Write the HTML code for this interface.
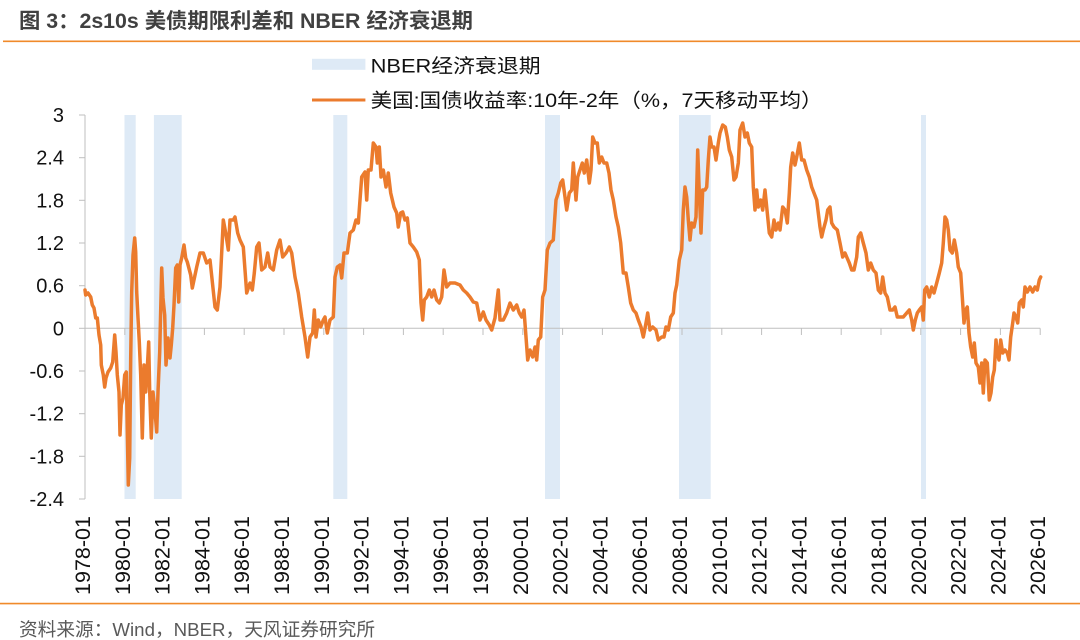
<!DOCTYPE html>
<html>
<head>
<meta charset="utf-8">
<style>
html,body{margin:0;padding:0;background:#fff;}
svg{display:block;}
text{font-family:"Liberation Sans","Noto Sans CJK SC",sans-serif;}
</style>
</head>
<body>
<svg width="1080" height="640" viewBox="0 0 1080 640" xmlns="http://www.w3.org/2000/svg">
<rect width="1080" height="640" fill="#fff"/>
<!-- Title -->
<text x="19" y="28" font-size="21" font-weight="bold" fill="#404040" textLength="454" lengthAdjust="spacingAndGlyphs">图 3：2s10s 美债期限利差和 NBER 经济衰退期</text>
<line x1="3" y1="41.3" x2="1080" y2="41.3" stroke="#F08A2A" stroke-width="1.6"/>

<!-- Legend -->
<rect x="312" y="58.8" width="53.4" height="11" fill="#DEEAF6"/>
<text x="370.6" y="72.5" font-size="19.5" fill="#111" textLength="170" lengthAdjust="spacingAndGlyphs">NBER经济衰退期</text>
<line x1="312" y1="100" x2="365.4" y2="100" stroke="#EB7B2D" stroke-width="3"/>
<text x="370.6" y="107" font-size="19.5" fill="#111" textLength="452" lengthAdjust="spacingAndGlyphs">美国:国债收益率:10年-2年（%，7天移动平均）</text>

<!-- Recession bands -->
<g fill="#DEEAF6">
<rect x="124.5" y="115" width="11.2" height="384"/>
<rect x="153.9" y="115" width="27.8" height="384"/>
<rect x="333.3" y="115" width="14" height="384"/>
<rect x="545" y="115" width="15" height="384"/>
<rect x="679" y="115" width="31.7" height="384"/>
<rect x="921" y="115" width="5" height="384"/>
</g>

<!-- Axes -->
<g stroke="#BFBFBF" stroke-width="1">
<line x1="85" y1="115" x2="85" y2="499"/>
<line x1="79" y1="115" x2="85" y2="115"/>
<line x1="79" y1="157.7" x2="85" y2="157.7"/>
<line x1="79" y1="200.3" x2="85" y2="200.3"/>
<line x1="79" y1="243" x2="85" y2="243"/>
<line x1="79" y1="285.7" x2="85" y2="285.7"/>
<line x1="79" y1="328.3" x2="85" y2="328.3"/>
<line x1="79" y1="371" x2="85" y2="371"/>
<line x1="79" y1="413.7" x2="85" y2="413.7"/>
<line x1="79" y1="456.3" x2="85" y2="456.3"/>
<line x1="79" y1="499" x2="85" y2="499"/>
<line x1="85" y1="328.3" x2="1040.2" y2="328.3"/>
<line x1="85" y1="328.3" x2="85" y2="335"/>
<line x1="124.8" y1="328.3" x2="124.8" y2="335"/>
<line x1="164.6" y1="328.3" x2="164.6" y2="335"/>
<line x1="204.4" y1="328.3" x2="204.4" y2="335"/>
<line x1="244.2" y1="328.3" x2="244.2" y2="335"/>
<line x1="284" y1="328.3" x2="284" y2="335"/>
<line x1="323.8" y1="328.3" x2="323.8" y2="335"/>
<line x1="363.6" y1="328.3" x2="363.6" y2="335"/>
<line x1="403.4" y1="328.3" x2="403.4" y2="335"/>
<line x1="443.2" y1="328.3" x2="443.2" y2="335"/>
<line x1="483" y1="328.3" x2="483" y2="335"/>
<line x1="522.8" y1="328.3" x2="522.8" y2="335"/>
<line x1="562.6" y1="328.3" x2="562.6" y2="335"/>
<line x1="602.4" y1="328.3" x2="602.4" y2="335"/>
<line x1="642.2" y1="328.3" x2="642.2" y2="335"/>
<line x1="682" y1="328.3" x2="682" y2="335"/>
<line x1="721.8" y1="328.3" x2="721.8" y2="335"/>
<line x1="761.6" y1="328.3" x2="761.6" y2="335"/>
<line x1="801.4" y1="328.3" x2="801.4" y2="335"/>
<line x1="841.2" y1="328.3" x2="841.2" y2="335"/>
<line x1="881" y1="328.3" x2="881" y2="335"/>
<line x1="920.8" y1="328.3" x2="920.8" y2="335"/>
<line x1="960.6" y1="328.3" x2="960.6" y2="335"/>
<line x1="1000.4" y1="328.3" x2="1000.4" y2="335"/>
<line x1="1040.2" y1="328.3" x2="1040.2" y2="335"/>
</g>

<!-- Y labels -->
<g font-size="20" fill="#111" text-anchor="end">
<text x="64" y="122">3</text>
<text x="64" y="164.7">2.4</text>
<text x="64" y="207.3">1.8</text>
<text x="64" y="250">1.2</text>
<text x="64" y="292.7">0.6</text>
<text x="64" y="335.3">0</text>
<text x="64" y="378">-0.6</text>
<text x="64" y="420.7">-1.2</text>
<text x="64" y="463.3">-1.8</text>
<text x="64" y="506">-2.4</text>
</g>

<!-- X labels -->
<g font-size="21" fill="#111">
<text transform="translate(90,595) rotate(-90)" textLength="79" lengthAdjust="spacingAndGlyphs">1978-01</text>
<text transform="translate(129.8,595) rotate(-90)" textLength="79" lengthAdjust="spacingAndGlyphs">1980-01</text>
<text transform="translate(169.6,595) rotate(-90)" textLength="79" lengthAdjust="spacingAndGlyphs">1982-01</text>
<text transform="translate(209.4,595) rotate(-90)" textLength="79" lengthAdjust="spacingAndGlyphs">1984-01</text>
<text transform="translate(249.2,595) rotate(-90)" textLength="79" lengthAdjust="spacingAndGlyphs">1986-01</text>
<text transform="translate(289,595) rotate(-90)" textLength="79" lengthAdjust="spacingAndGlyphs">1988-01</text>
<text transform="translate(328.8,595) rotate(-90)" textLength="79" lengthAdjust="spacingAndGlyphs">1990-01</text>
<text transform="translate(368.6,595) rotate(-90)" textLength="79" lengthAdjust="spacingAndGlyphs">1992-01</text>
<text transform="translate(408.4,595) rotate(-90)" textLength="79" lengthAdjust="spacingAndGlyphs">1994-01</text>
<text transform="translate(448.2,595) rotate(-90)" textLength="79" lengthAdjust="spacingAndGlyphs">1996-01</text>
<text transform="translate(488,595) rotate(-90)" textLength="79" lengthAdjust="spacingAndGlyphs">1998-01</text>
<text transform="translate(527.8,595) rotate(-90)" textLength="79" lengthAdjust="spacingAndGlyphs">2000-01</text>
<text transform="translate(567.6,595) rotate(-90)" textLength="79" lengthAdjust="spacingAndGlyphs">2002-01</text>
<text transform="translate(607.4,595) rotate(-90)" textLength="79" lengthAdjust="spacingAndGlyphs">2004-01</text>
<text transform="translate(647.2,595) rotate(-90)" textLength="79" lengthAdjust="spacingAndGlyphs">2006-01</text>
<text transform="translate(687,595) rotate(-90)" textLength="79" lengthAdjust="spacingAndGlyphs">2008-01</text>
<text transform="translate(726.8,595) rotate(-90)" textLength="79" lengthAdjust="spacingAndGlyphs">2010-01</text>
<text transform="translate(766.6,595) rotate(-90)" textLength="79" lengthAdjust="spacingAndGlyphs">2012-01</text>
<text transform="translate(806.4,595) rotate(-90)" textLength="79" lengthAdjust="spacingAndGlyphs">2014-01</text>
<text transform="translate(846.2,595) rotate(-90)" textLength="79" lengthAdjust="spacingAndGlyphs">2016-01</text>
<text transform="translate(886,595) rotate(-90)" textLength="79" lengthAdjust="spacingAndGlyphs">2018-01</text>
<text transform="translate(925.8,595) rotate(-90)" textLength="79" lengthAdjust="spacingAndGlyphs">2020-01</text>
<text transform="translate(965.6,595) rotate(-90)" textLength="79" lengthAdjust="spacingAndGlyphs">2022-01</text>
<text transform="translate(1005.4,595) rotate(-90)" textLength="79" lengthAdjust="spacingAndGlyphs">2024-01</text>
<text transform="translate(1045.2,595) rotate(-90)" textLength="79" lengthAdjust="spacingAndGlyphs">2026-01</text>
</g>

<!-- Series -->
<polyline fill="none" stroke="#EB7B2D" stroke-width="3.5" stroke-linejoin="round" stroke-linecap="round" points="
85,290 85.7,295 88,293 90.7,297 92.3,305 94,308 95.7,318 97.3,318 99,335 100.7,345 101.3,365 103.3,375 104.7,387 106,378 108,372 110.7,368 112.7,362 114.7,335 116,352 117.3,375 119,392 120,435 121.3,405 123,398 124.7,375 126.3,372 127.3,432 128.3,485 129.7,458 130.7,358 131.7,292 133,255 134.7,238 135.7,252 136.7,292 138,318 139.3,342 140.7,375 142.3,438 144,365 145.7,392 147.3,368 148.7,342 149.7,392 151.3,438 153,392 154.7,408 156.7,432 158,392 159.7,352 161.7,268 163,298 164.7,315 166,365 168,338 170,358 171.3,345 172.7,328 174,305 175.7,268 177.3,265 178.7,302 180,265 181.7,258 184,245 185.7,258 187.3,262 190.7,275 192.3,288
196.7,267 200,253 203.3,253 206.7,263 210,260 215,307 217.3,310 220,287 223.3,220 225.7,233 228.3,250 230,220 233.3,220 235,217 237.7,233 240,240 243.3,247 246.7,293 250,283 252.3,290 254.3,273 256.7,247 259,243 261.7,270 265,267 267.7,253
270,267 273.3,270 276.7,250 280,240 282.7,257 286,253 289.3,247 291.7,253 295,277 298.3,293 301.7,317 305,337 307.7,357 310,337 312.7,333 314.3,310 316,337 318.3,320 320.7,327 323.3,320 325,317 327.3,333 330,320 333.3,317 335,277 337.3,267 340,265 341.7,278 344,253 347.3,253 350,233 353.3,230 356,220 358.3,223 361.7,177 365,172 366.7,200 368.3,170 371,170 373.3,143 376,147 377.3,163 379.3,147 381,177 383.3,170 386,187 388.3,173 390.7,193 394,207 396.7,213 398.3,227 400.7,213 402.7,212 405,220 407.3,218 410,243 413.3,247 416.7,252 419.3,260 421,303 422.7,320 424.3,300 426.7,297 429.3,290 431.7,297 434,290 436.7,300 439.3,303 441.7,297 444,270 446.7,287 450,283 455,283 460,285 463.3,290 466.7,293 470,297 473.3,302 476.7,303 480,320 483.3,312 486,320 489.3,325 491.7,330 495,318 498.3,290 500,320 503.3,320 506.7,313 510,303 513.3,310 516.7,305 519.3,313 521.7,317 524,310 526,337 527.7,360 530,350 532.7,357 535,347 536.7,360 538.3,340 540.7,337
542.7,297 545,290 547.3,250 550,243 553.3,240 556,200 558.3,193 560.7,183 562.7,180 565,197 566.7,210 569.3,193 571.7,190 573.3,163 576,200 577.7,177 580,170 582.3,163 584.3,173 586.7,160 589.3,183 591,170 592.7,137 595,143 597.3,143 599.3,163 601.7,157 604,163 606.7,163 609,173 611,190 613.3,200 616,217 618.3,227 620.7,243 623.3,273 626,273 628.3,287 630.7,303 633.3,310 636,313 638.3,320 641,327 643.3,337 646,323 647.7,313 650,330 652.7,327 656,330 658.3,340 661.7,337 664,337 666,327 668.3,330 670.7,317 673.3,313 675,293 676.7,285 679.3,260 681.7,250 683.3,210 685,187 686.7,197 688.3,220 690,240 691.7,223 694,227 696,217 697.7,150 699.3,193 701,233 702.7,190 705,190 706.7,187 708.3,160 710,137 711.7,147 714,147 716,160 718.3,143 720,133 722.7,125 725.3,127 727.3,137 729.3,150 731.7,157 734,180 736,177 738.3,163 740,130 742.7,123 745,137 747.3,133 749.3,143 751.7,147 753.3,187 755,210 756.7,190 758.3,207 760.7,200 762.7,210 765,190 767.3,213 769.3,233 771.7,237 774,220 776,230 778.3,223 780,230 782.7,207 785,210 787.3,223 789.3,193
790.7,167 792.7,153 795,165 796.7,157 799.3,143 801.7,160 804,160 806.7,170 809.3,177 811.7,187 814,193 816.7,200 818.3,213 820,227 821.7,237 823.3,230 826,220 827.7,210 830,207 831.7,223 834,227 837.3,230 840,243 842.7,257 845,253 846.7,257 849.3,263 851.7,270 854,270 856.7,257 858.3,237 860.7,233 863.3,243 866,253 868.3,270 870.7,263 873.3,270 876,273 878.3,290 880.7,293 882.7,277 885,293 887.3,297 890,310 892.7,310 895,307 897.3,317 900,317 903.3,317 906.7,313 909.3,310 911.7,320 913.3,330 915.3,320 917.3,313 919.3,310 921.7,307 923.3,320 924.7,290 926.7,287 929.3,297 931.7,287 934,293 936.7,283 939.3,273 941.7,263 943.3,243 945,217 946.7,220 948.3,230 950,250 952.3,253 954.3,240 956.7,253 958.3,267 960.7,273 962.3,297 964,323 965.7,310 967.3,307 969,333 970.7,347 972.7,357 974.3,343 976,363 978.3,367 980,383 981.7,363 983.3,393 985,360 987.3,363 989.3,400 991,393 992.7,377 994.3,370 996,340 997.3,353 999,360 1000.7,340 1002.7,353 1005,350 1007.3,353 1009,360 1010.7,337 1012.7,323 1014,313 1016,317 1017.7,323 1019.3,303 1021.7,300 1023.3,307 1025,287 1027.3,292 1030,287 1032.7,292 1035,287 1037.3,290 1039.3,280 1040.7,277"/>

<!-- Footer -->
<line x1="0" y1="603.6" x2="1080" y2="603.6" stroke="#F08A2A" stroke-width="1.6"/>
<text x="19" y="636" font-size="18.7" fill="#595959" textLength="356" lengthAdjust="spacingAndGlyphs">资料来源：Wind，NBER，天风证券研究所</text>
</svg>
</body>
</html>
